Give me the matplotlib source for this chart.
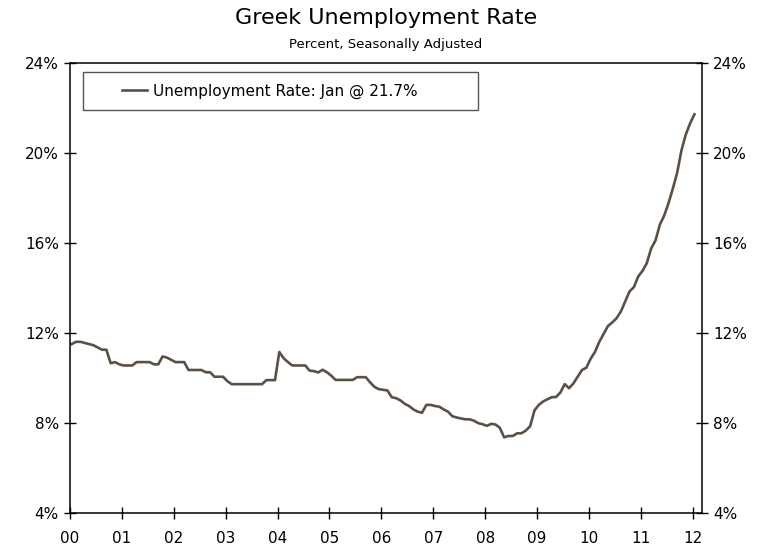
import numpy as np
import matplotlib
matplotlib.use('Agg')
import matplotlib.pyplot as plt
from matplotlib.patches import Rectangle
from matplotlib.ticker import FuncFormatter

# Monthly unemployment rate, Jan 2000 .. Jan 2012 (percent, SA)
rate_2000 = [11.5, 11.6, 11.6, 11.55, 11.5, 11.45, 11.35, 11.25, 11.25, 10.65, 10.7, 10.6]
rate_2001 = [10.55, 10.55, 10.55, 10.7, 10.7, 10.7, 10.7, 10.6, 10.6, 10.95, 10.9, 10.8]
rate_2002 = [10.7, 10.7, 10.7, 10.35, 10.35, 10.35, 10.35, 10.25, 10.25, 10.05, 10.05, 10.05]
rate_2003 = [9.85, 9.72, 9.72, 9.72, 9.72, 9.72, 9.72, 9.72, 9.72, 9.9, 9.9, 9.9]
rate_2004 = [11.15, 10.87, 10.7, 10.55, 10.55, 10.55, 10.55, 10.32, 10.3, 10.24, 10.36, 10.25]
rate_2005 = [10.1, 9.91, 9.91, 9.91, 9.91, 9.91, 10.03, 10.03, 10.03, 9.8, 9.6, 9.5]
rate_2006 = [9.47, 9.44, 9.14, 9.1, 9.0, 8.85, 8.75, 8.6, 8.5, 8.45, 8.8, 8.8]
rate_2007 = [8.75, 8.72, 8.6, 8.5, 8.3, 8.24, 8.2, 8.16, 8.16, 8.1, 7.99, 7.94]
rate_2008 = [7.87, 7.96, 7.93, 7.78, 7.36, 7.42, 7.42, 7.54, 7.54, 7.66, 7.85, 8.55]
rate_2009 = [8.8, 8.95, 9.05, 9.14, 9.15, 9.35, 9.72, 9.54, 9.75, 10.05, 10.35, 10.45]
rate_2010 = [10.85, 11.15, 11.6, 11.95, 12.3, 12.46, 12.65, 12.95, 13.4, 13.84, 14.03, 14.5]
rate_2011 = [14.75, 15.1, 15.75, 16.1, 16.8, 17.2, 17.75, 18.4, 19.1, 20.1, 20.8, 21.3]
rate_2012 = [21.7]

year_labels = ['00', '01', '02', '03', '04', '05', '06', '07', '08', '09', '10', '11', '12']
y_ticks = [4, 8, 12, 16, 20, 24]

rate = np.array(rate_2000 + rate_2001 + rate_2002 + rate_2003 + rate_2004 + rate_2005
                + rate_2006 + rate_2007 + rate_2008 + rate_2009 + rate_2010 + rate_2011
                + rate_2012)
t = 2000 + (np.arange(len(rate)) + 0.4) / 12.0

LINE_COLOR = '#5b5046'

fig = plt.figure(figsize=(7.67, 5.46), dpi=100)
ax = fig.add_axes([0.0913, 0.0604, 0.8240, 0.8251])

ax.plot(t, rate, color=LINE_COLOR, lw=1.9, solid_joinstyle='round',
        label='Unemployment Rate: Jan @ 21.7%')

ax.set_xlim(2000, 2012.18)
ax.set_ylim(4, 24)
ax.set_xticks(np.arange(2000, 2013))
ax.set_xticklabels(year_labels)
ax.set_yticks(y_ticks)
ax.yaxis.set_major_formatter(FuncFormatter(lambda v, _: f'{v:.0f}%'))

for s in ax.spines.values():
    s.set_linewidth(1.1)
    s.set_color('black')

ax.tick_params(axis='y', direction='inout', length=8, width=1, labelsize=11,
               left=True, right=True, labelleft=True, labelright=True, pad=4)
ax.tick_params(axis='x', direction='inout', length=8, width=1, labelsize=11,
               top=False, pad=9)

# legend box and entry
ax.add_patch(Rectangle((0.0206, 0.8946), 0.625, 0.0844, transform=ax.transAxes,
                       fill=False, edgecolor='#555555', lw=1.0, zorder=3))
ax.legend(loc='center left', bbox_to_anchor=(0.0823, 0.936), frameon=False,
          fontsize=11, borderpad=0, borderaxespad=0, handlelength=1.65,
          handletextpad=0.35)

fig.text(0.503, 0.967, 'Greek Unemployment Rate', ha='center', va='center', fontsize=16)
fig.text(0.503, 0.919, 'Percent, Seasonally Adjusted', ha='center', va='center', fontsize=9.5)

fig.savefig('out.png', dpi=100)
